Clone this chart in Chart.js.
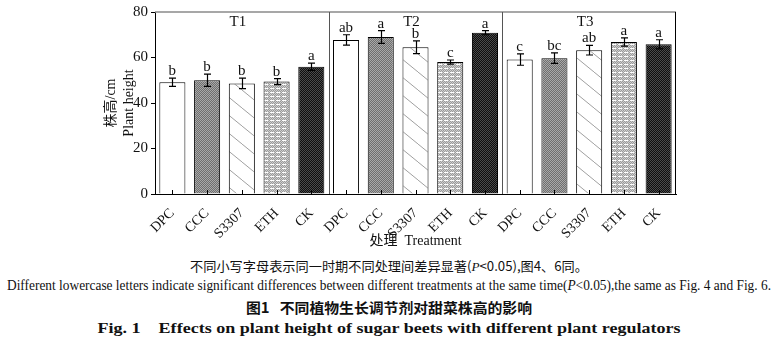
<!DOCTYPE html>
<html>
<head>
<meta charset="utf-8">
<script src="https://cdn.jsdelivr.net/npm/chart.js@4.4.1/dist/chart.umd.min.js"></script>
<style>
  html, body { margin: 0; padding: 0; background: #fff; }
  #wrap { position: relative; width: 778px; height: 350px; overflow: hidden; }
  #box { position: absolute; left: 0; top: 0; width: 778px; height: 250px; }
  .cap { position: absolute; left: 0; width: 778px; height: 20px; white-space: nowrap; color: #111; }
  .cap span.in { position: absolute; left: 389px; top: 0; display: inline-block; transform-origin: center center; }
  .serif { font-family: 'Liberation Serif', 'Noto Sans CJK SC', serif; }
  .cjk { font-family: 'Noto Sans CJK SC', 'Liberation Serif', sans-serif; }
</style>
</head>
<body>
<div id="wrap">
  <div id="box"><canvas id="c-height"></canvas></div>
  <div class="cap cjk" style="top:256px;font-size:13px;"><span class="in" data-w="398">不同小写字母表示同一时期不同处理间差异显著(<i class="serif">P</i>&lt;0.05),图4、6同。</span></div>
  <div class="cap serif" style="top:278px;font-size:14px;"><span class="in" data-w="764">Different lowercase letters indicate significant differences between different treatments at the same time(<i>P</i>&lt;0.05),the same as Fig. 4 and Fig. 6.</span></div>
  <div class="cap cjk" style="top:297px;font-size:14px;font-weight:bold;"><span class="in" data-w="286">图1&nbsp;&nbsp;&nbsp;不同植物生长调节剂对甜菜株高的影响</span></div>
  <div class="cap serif" style="top:320px;font-size:15px;font-weight:bold;"><span class="in" data-w="583">Fig. 1&nbsp;&nbsp;&nbsp;&nbsp;Effects on plant height of sugar beets with different plant regulators</span></div>
</div>
<script>
const treatments = ['DPC', 'CCC', 'S3307', 'ETH', 'CK'];
const periods = ['T1', 'T2', 'T3'];
const yTicks = [0, 20, 40, 60, 80];

const heightT1 = [49.1, 50.0, 48.6, 49.4, 55.9];
const heightT2 = [67.7, 69.0, 64.5, 58.0, 70.9];
const heightT3 = [59.1, 59.7, 63.2, 66.8, 65.8];

const errT1 = [1.8, 2.7, 2.3, 1.3, 1.6];
const errT2 = [2.3, 2.8, 2.8, 0.9, 0.9];
const errT3 = [2.5, 2.3, 2.1, 1.8, 2.0];

const letterT1 = ['b', 'b', 'b', 'b', 'a'];
const letterT2 = ['ab', 'a', 'b', 'c', 'a'];
const letterT3 = ['c', 'bc', 'ab', 'a', 'a'];

const labels = periods.flatMap(() => treatments);
const values = [...heightT1, ...heightT2, ...heightT3];
const errors = [...errT1, ...errT2, ...errT3];
const letters = [...letterT1, ...letterT2, ...letterT3];

const SERIF = "'Liberation Serif', 'Noto Sans CJK SC', serif";

function makePattern(w, h, draw) {
  const c = document.createElement('canvas');
  c.width = w; c.height = h;
  const g = c.getContext('2d');
  draw(g, w, h);
  return g.createPattern(c, 'repeat');
}

function checker(g, a, b, w, h) {
  for (let y = 0; y < h; y++)
    for (let x = 0; x < w; x++) {
      g.fillStyle = (x + y) % 2 ? a : b;
      g.fillRect(x, y, 1, 1);
    }
}

const fillDPC = '#ffffff';
const fillCCC = makePattern(2, 2, (g, w, h) => checker(g, '#6e6e6e', '#a8a8a8', w, h));
const fillS3307 = makePattern(22, 18, (g, w, h) => {
  g.fillStyle = '#fff'; g.fillRect(0, 0, w, h);
  g.strokeStyle = '#a0a0a0'; g.lineWidth = 1;
  g.beginPath();
  g.moveTo(-w, -h); g.lineTo(2 * w, 2 * h);
  g.stroke();
});
const fillETH = makePattern(6, 4, (g, w, h) => {
  checker(g, '#9a9a9a', '#cfcfcf', w, h);
  g.fillStyle = '#ffffff'; g.fillRect(0, 0, 4, 1);
});
const fillCK = makePattern(2, 2, (g, w, h) => checker(g, '#0e0e0e', '#4a4a4a', w, h));
const treatmentFills = [fillDPC, fillCCC, fillS3307, fillETH, fillCK];
const fills = periods.flatMap(() => treatmentFills);

const extras = {
  id: 'extras',
  afterDatasetsDraw(chart) {
    const { ctx, chartArea: a, scales: { x, y } } = chart;
    const meta = chart.getDatasetMeta(0);
    ctx.save();
    // frame
    ctx.strokeStyle = '#8a8a8a'; ctx.lineWidth = 1.6;
    ctx.beginPath(); ctx.moveTo(a.left, a.top); ctx.lineTo(a.right, a.top); ctx.stroke();
    ctx.strokeStyle = '#000'; ctx.lineWidth = 1;
    ctx.beginPath(); ctx.moveTo(a.right - 0.5, a.top); ctx.lineTo(a.right - 0.5, a.bottom); ctx.stroke();
    // group separators
    ctx.strokeStyle = '#555'; ctx.lineWidth = 1;
    for (let p = 1; p < periods.length; p++) {
      const i = p * treatments.length;
      const xs = Math.round((x.getPixelForValue(i - 1) + x.getPixelForValue(i)) / 2) + 0.5;
      ctx.beginPath(); ctx.moveTo(xs, a.top); ctx.lineTo(xs, a.bottom); ctx.stroke();
    }
    // inner ticks on x axis
    ctx.strokeStyle = '#000';
    labels.forEach((_, i) => {
      const xp = Math.round(x.getPixelForValue(i)) + 0.5;
      ctx.beginPath(); ctx.moveTo(xp, a.bottom); ctx.lineTo(xp, a.bottom - 4); ctx.stroke();
    });
    // error bars + letters
    ctx.lineWidth = 1.2;
    ctx.fillStyle = '#111';
    ctx.font = `15px ${SERIF}`;
    ctx.textAlign = 'center'; ctx.textBaseline = 'alphabetic';
    meta.data.forEach((bar, i) => {
      const xp = Math.round(bar.x) + 0.5;
      const hi = y.getPixelForValue(values[i] + errors[i]);
      const lo = y.getPixelForValue(values[i] - errors[i]);
      ctx.beginPath();
      ctx.moveTo(xp, hi); ctx.lineTo(xp, lo);
      ctx.moveTo(xp - 3.5, hi); ctx.lineTo(xp + 3.5, hi);
      ctx.moveTo(xp - 3.5, lo); ctx.lineTo(xp + 3.5, lo);
      ctx.stroke();
      ctx.fillText(letters[i], bar.x, hi - 3);
    });
    // period labels
    ctx.font = `15px ${SERIF}`;
    ctx.textBaseline = 'middle';
    periods.forEach((p, k) => {
      const mid = x.getPixelForValue(k * treatments.length + 2);
      ctx.fillText(p, mid - 4, a.top + 10);
    });
    // axis titles
    ctx.font = `14px ${SERIF}`;
    ctx.fillText('处理  Treatment', (a.left + a.right) / 2, a.bottom + 47);
    ctx.translate(a.left - 35, (a.top + a.bottom) / 2);
    ctx.rotate(-Math.PI / 2);
    ctx.fillText('株高/cm', 0, -9);
    ctx.fillText('Plant height', 0, 9);
    ctx.restore();
  }
};

new Chart(document.getElementById('c-height'), {
  type: 'bar',
  data: {
    labels,
    datasets: [{
      data: values,
      backgroundColor: fills,
      borderColor: '#000',
      borderWidth: 1,
      borderSkipped: 'bottom',
      barPercentage: 0.75,
      categoryPercentage: 1.0,
    }],
  },
  options: {
    responsive: true,
    maintainAspectRatio: false,
    animation: false,
    events: [],
    layout: { padding: { left: 0, right: 102, top: 10, bottom: 0 } },
    plugins: { legend: { display: false }, tooltip: { enabled: false } },
    scales: {
      x: {
        grid: { display: false },
        border: { display: true, color: '#000', width: 1 },
        ticks: {
          autoSkip: false, maxRotation: 45, minRotation: 45,
          color: '#111', padding: 3,
          font: { family: SERIF, size: 14 },
        },
        afterFit: s => { s.height = 56; },
      },
      y: {
        min: 0, max: 80,
        afterBuildTicks: s => { s.ticks = yTicks.map(v => ({ value: v })); },
        grid: { drawOnChartArea: false, tickLength: 4, color: '#000' },
        border: { display: true, color: '#000', width: 1 },
        ticks: { color: '#111', padding: 3, font: { family: SERIF, size: 15 } },
        afterFit: s => { s.width = 155; },
      },
    },
  },
  plugins: [extras],
});

document.querySelectorAll('.cap span.in').forEach(el => {
  const w = el.getBoundingClientRect().width;
  const target = +el.dataset.w;
  el.style.transform = `translateX(-50%) scaleX(${(target / w).toFixed(4)})`;
});
</script>
</body>
</html>
